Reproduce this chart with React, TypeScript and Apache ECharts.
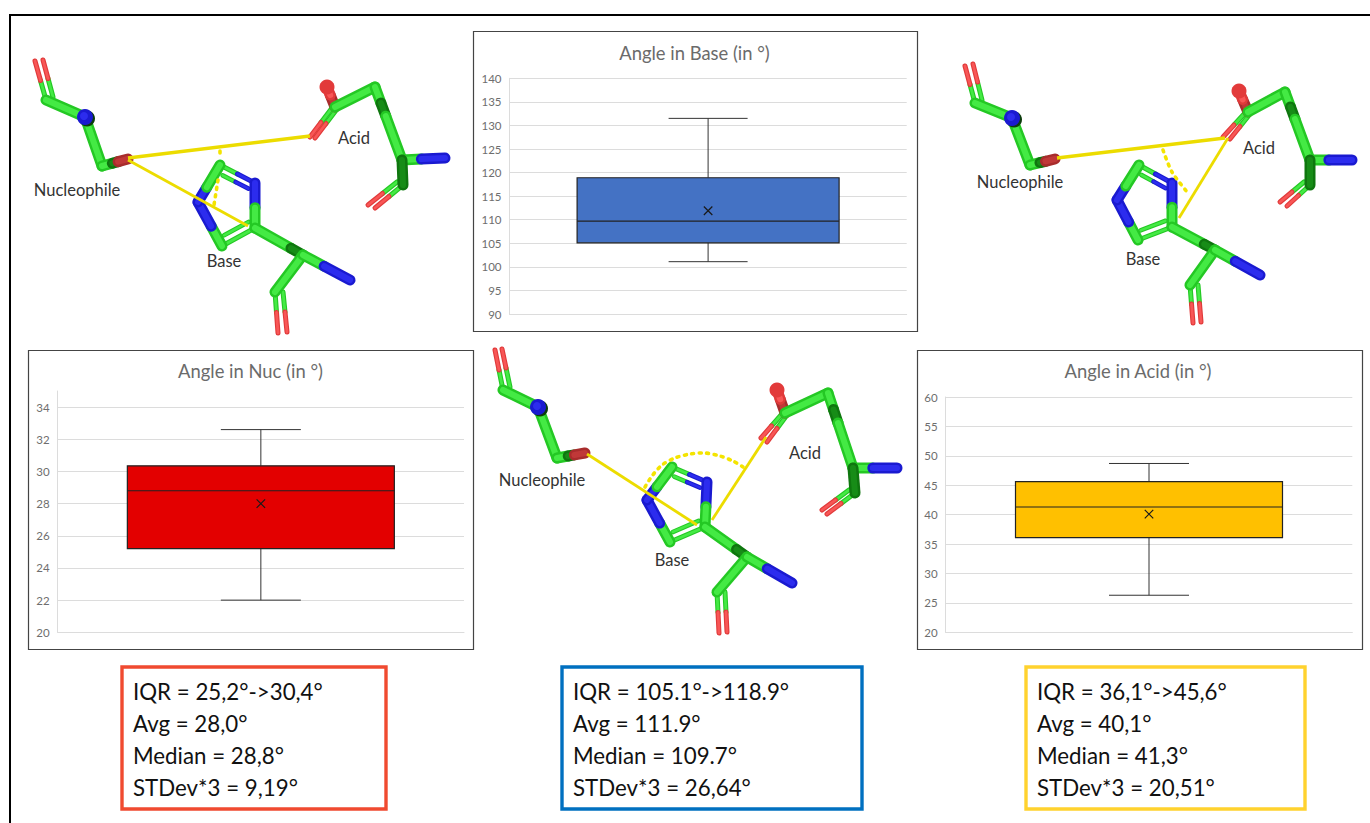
import React, { useEffect, useRef } from "react";
import * as echarts from "echarts";

// ---------- chart data ----------
const chartTitles = ["Angle in Nuc (in °)", "Angle in Base (in °)", "Angle in Acid (in °)"];
const categoryNames = ["Nuc", "Base", "Acid"];
const boxNuc = [22.0, 25.2, 28.8, 30.35, 32.6];
const boxBase = [101.1, 105.1, 109.7, 118.9, 131.5];
const boxAcid = [26.3, 36.1, 41.3, 45.6, 48.7];
const meanValues = [28.0, 111.9, 40.1];
const axisMins = [20, 90, 20];
const axisMaxs = [35, 140, 60];
const axisSteps = [2, 5, 5];
const boxColors = ["#e30000", "#4472c4", "#ffc000"];

// ---------- captions ----------
const statsNuc = ["IQR = 25,2°->30,4°", "Avg = 28,0°", "Median = 28,8°", "STDev*3 = 9,19°"];
const statsBase = ["IQR = 105.1°->118.9°", "Avg = 111.9°", "Median = 109.7°", "STDev*3 = 26,64°"];
const statsAcid = ["IQR = 36,1°->45,6°", "Avg = 40,1°", "Median = 41,3°", "STDev*3 = 20,51°"];

// ---------- illustration (stick models) ----------
type P = number[];
const nucKeys: P[][] = [
  [[35, 61], [43, 60], [46, 100], [85, 117], [102, 166], [128, 159]],
  [[495, 350], [502, 349], [503, 390], [538, 407], [557, 458], [585, 453]],
  [[965, 66], [973, 64], [975, 103], [1012, 118], [1030, 165], [1055, 159]],
];
const hisKeys: P[][] = [
  [[220, 165], [255, 183], [255, 228], [222, 246], [198, 202], [303, 255], [350, 280], [275, 292], [278, 333], [287, 332]],
  [[672, 467], [707, 482], [705, 527], [670, 542], [647, 500], [747, 557], [792, 583], [717, 592], [719, 633], [727, 632]],
  [[1139, 165], [1172, 183], [1172, 227], [1138, 240], [1117, 200], [1215, 250], [1260, 275], [1190, 285], [1193, 323], [1201, 322]],
];
const acidKeys: P[][] = [
  [[327, 87], [335, 107], [375, 87], [402, 160], [445, 158], [403, 185], [368, 205], [375, 208], [310, 137], [315, 138]],
  [[777, 390], [785, 413], [828, 393], [853, 468], [897, 468], [855, 493], [822, 510], [827, 514], [761, 438], [767, 442]],
  [[1239, 91], [1248, 112], [1285, 92], [1310, 160], [1352, 160], [1310, 185], [1280, 202], [1287, 206], [1223, 137], [1230, 139]],
];
const solidBonds: P[][][] = [
  [[[128, 158], [310, 136]], [[128, 160], [248, 226]]],
  [[[587, 454], [697, 525]], [[712, 520], [766, 437]]],
  [[[1057, 158], [1225, 138]], [[1179, 218], [1228, 138]]],
];
const dottedArcs: P[][][] = [
  [[[220, 151], [220, 158]], [[218, 180], [214, 205]]],
  [[[645, 487], [652, 476], [662, 465], [675, 458], [690, 454], [705, 453], [720, 456], [733, 461], [743, 467]]],
  [[[1163, 150], [1172, 172], [1188, 193]]],
];
const moleculeLabels: [string, number, number][] = [
  ["Nucleophile", 77, 190], ["Acid", 354, 138], ["Base", 224, 261],
  ["Nucleophile", 542, 480], ["Acid", 805, 453], ["Base", 672, 560],
  ["Nucleophile", 1020, 182], ["Acid", 1259, 148], ["Base", 1143, 259],
];

const GREEN = ["#24c824", "#44ea44"];
const DKGREEN = ["#0f760f", "#178c17"];
const BLUE = ["#1a1ad0", "#2c2cee"];
const RED = ["#e03a3a", "#f85656"];
const DKRED = ["#a82c2c", "#c03838"];

const lerp = (a: P, b: P, t: number): P => [a[0] + (b[0] - a[0]) * t, a[1] + (b[1] - a[1]) * t];

function stick(a: P, b: P, c: string[], w: number): any[] {
  const base = { silent: true, type: "polyline", shape: { points: [a, b] } };
  return [
    { ...base, style: { stroke: c[0], lineWidth: w, fill: "none", lineCap: "round", lineJoin: "round" } },
    { ...base, style: { stroke: c[1], lineWidth: w * 0.55, fill: "none", lineCap: "round", lineJoin: "round" } },
  ];
}
function ball(p: P, r: number, c: string[]): any[] {
  return [
    { type: "circle", silent: true, shape: { cx: p[0] + 2, cy: p[1] + 1.5, r }, style: { fill: "#0c3c0c" } },
    { type: "circle", silent: true, shape: { cx: p[0], cy: p[1], r }, style: { fill: c[0] } },
    { type: "circle", silent: true, shape: { cx: p[0] - 1, cy: p[1] - 1, r: r * 0.5 }, style: { fill: c[1] } },
  ];
}
function thinPair(a1: P, a2: P, b1: P, b2: P, w = 5): any[] {
  return [
    ...stick(a1, lerp(a1, b1, 0.5), GREEN, w), ...stick(lerp(a1, b1, 0.5), b1, RED, w),
    ...stick(a2, lerp(a2, b2, 0.5), GREEN, w), ...stick(lerp(a2, b2, 0.5), b2, RED, w),
  ];
}

function molecule(i: number): any[] {
  const out: any[] = [];
  const W = 11;
  // nucleophile
  const [ta, tb, c, n, bend, o] = nucKeys[i];
  out.push(...thinPair(c, [c[0] + 7, c[1] - 3], ta, tb));
  out.push(...stick(c, n, GREEN, W), ...stick(n, bend, GREEN, W));
  out.push(...stick(bend, lerp(bend, o, 0.4), GREEN, W), ...stick(lerp(bend, o, 0.4), lerp(bend, o, 0.62), DKGREEN, W));
  out.push(...stick(lerp(bend, o, 0.62), o, DKRED, W));
  out.push(...ball(n, 8, BLUE));
  // acid
  const [os, c1, k, m, ne, d, p1, p2, o1, o2] = acidKeys[i];
  out.push(...thinPair([c1[0] + 2, c1[1] + 2], [c1[0] - 3, c1[1] + 1], o2, o1));
  out.push(...thinPair(d, [d[0] - 6, d[1] - 3], p2, p1));
  out.push(...stick(lerp(os, c1, 0.4), c1, DKRED, W), ...stick(os, lerp(os, c1, 0.4), RED, W));
  out.push({ type: "circle", silent: true, shape: { cx: os[0], cy: os[1], r: 7.5 }, style: { fill: "#e23a3a" } });
  out.push(...stick(c1, k, GREEN, W));
  out.push(...stick(k, lerp(k, m, 0.22), GREEN, W), ...stick(lerp(k, m, 0.22), lerp(k, m, 0.4), DKGREEN, W), ...stick(lerp(k, m, 0.4), m, GREEN, W));
  out.push(...stick(m, lerp(m, ne, 0.45), GREEN, W), ...stick(lerp(m, ne, 0.45), ne, BLUE, W));
  out.push(...stick(m, d, DKGREEN, W));
  // imidazole ring + backbone
  const [t, nr, cr, cb, nl, ca, nEnd, cc, tA, tB] = hisKeys[i];
  const center = [(t[0] + nr[0] + cr[0] + cb[0] + nl[0]) / 5, (t[1] + nr[1] + cr[1] + cb[1] + nl[1]) / 5];
  const inset = (p: P) => lerp(p, center, 0.26);
  out.push(...thinPair(cc, [cc[0] + 8, cc[1]], tA, tB));
  out.push(...stick(t, lerp(t, nr, 0.5), GREEN, 5), ...stick(lerp(t, nr, 0.5), nr, BLUE, 5));
  out.push(...stick(inset(t), lerp(inset(t), inset(nr), 0.5), GREEN, 4.6), ...stick(lerp(inset(t), inset(nr), 0.5), inset(nr), BLUE, 4.6));
  out.push(...stick(cb, cr, GREEN, 5), ...stick(inset(cb), inset(cr), GREEN, 4.6));
  out.push(...stick(nr, lerp(nr, cr, 0.55), BLUE, W), ...stick(lerp(nr, cr, 0.55), cr, GREEN, W));
  out.push(...stick(cb, lerp(cb, nl, 0.45), GREEN, W), ...stick(lerp(cb, nl, 0.45), nl, BLUE, W));
  out.push(...stick(nl, lerp(nl, t, 0.4), BLUE, W), ...stick(lerp(nl, t, 0.4), t, GREEN, W));
  out.push(...stick(cr, lerp(cr, ca, 0.75), GREEN, W), ...stick(lerp(cr, ca, 0.75), ca, DKGREEN, W));
  out.push(...stick(ca, cc, GREEN, W));
  out.push(...stick(ca, lerp(ca, nEnd, 0.45), GREEN, W), ...stick(lerp(ca, nEnd, 0.45), nEnd, BLUE, W));
  // measured distances
  solidBonds[i].forEach((s, j) => {
    out.push({
      type: "polyline", silent: true, shape: { points: s },
      style: { stroke: "#ecdc00", lineWidth: j === 0 && i !== 1 ? 3.4 : 2.8, fill: "none" },
    });
  });
  dottedArcs[i].forEach((s) => {
    out.push({
      type: "polyline", silent: true, shape: { points: s, smooth: 0.3 },
      style: { stroke: "#f4e400", lineWidth: 3.6, fill: "none", lineCap: "round", lineDash: [2, 5.5] },
    });
  });
  return out;
}

// ---------- layout ----------
const frames = [
  [28, 350, 445, 299],
  [473, 31, 444, 300],
  [917, 350, 445, 299],
];
const grids = [
  { left: 57.7, top: 391, width: 406.3, height: 241.3 },
  { left: 509.5, top: 78.3, width: 397.2, height: 235.7 },
  { left: 945.7, top: 397, width: 406.6, height: 235.3 },
];
const titleSpots = [[250.5, 362], [694.5, 44], [1138, 362]];
const boxWidths = [267, 262, 267];
const capWidths = [80, 79, 80];
const statBoxes = [
  { x: 122, y: 667, w: 264, h: 142, c: "#f04a30", tx: 133, lines: statsNuc },
  { x: 562, y: 667, w: 300, h: 142, c: "#0070c0", tx: 573, lines: statsBase },
  { x: 1026, y: 667, w: 279, h: 142, c: "#ffd22e", tx: 1037, lines: statsAcid },
];
const lineYs = [691, 723, 755, 787];

const FONT = "Lato, 'Noto Sans', sans-serif";

function boxRenderer(i: number) {
  return (_params: any, api: any) => {
    const px = (k: number) => api.coord([api.value(0), api.value(k)]);
    const [cx, yMin] = px(1);
    const yQ1 = px(2)[1];
    const yMed = px(3)[1];
    const yQ3 = px(4)[1];
    const yMax = px(5)[1];
    const halfBox = boxWidths[i] / 2;
    const halfCap = capWidths[i] / 2;
    const thin = { stroke: "#333", lineWidth: 1 };
    const edge = { stroke: "#222", lineWidth: 1.2 };
    const line = (x1: number, y1: number, x2: number, y2: number, style: any) => ({
      type: "line", shape: { x1, y1, x2, y2 }, style,
    });
    return {
      type: "group",
      children: [
        line(cx, yMin, cx, yQ1, thin),
        line(cx, yQ3, cx, yMax, thin),
        line(cx - halfCap, yMin, cx + halfCap, yMin, thin),
        line(cx - halfCap, yMax, cx + halfCap, yMax, thin),
        {
          type: "rect",
          shape: { x: cx - halfBox, y: yQ3, width: halfBox * 2, height: yQ1 - yQ3 },
          style: { fill: boxColors[i], ...edge },
        },
        line(cx - halfBox, yMed, cx + halfBox, yMed, edge),
      ],
    };
  };
}

function buildOption() {
  const boxes = [boxNuc, boxBase, boxAcid];
  const graphic: any[] = [];
  graphic.push({ type: "polyline", silent: true, shape: { points: [[10, 823], [10, 15], [1370, 15]] }, style: { stroke: "#000", lineWidth: 2, fill: "none" } });
  frames.forEach((f) => {
    graphic.push({ type: "rect", silent: true, shape: { x: f[0] + 0.5, y: f[1] + 0.5, width: f[2], height: f[3] }, style: { fill: "none", stroke: "#444", lineWidth: 1.2 } });
  });
  statBoxes.forEach((b) => {
    graphic.push({ type: "rect", silent: true, shape: { x: b.x, y: b.y, width: b.w, height: b.h }, style: { fill: "#fff", stroke: b.c, lineWidth: 3.4 } });
    b.lines.forEach((text, i) => {
      graphic.push({
        type: "text", silent: true, x: b.tx, y: lineYs[i], scaleX: 0.97,
        style: { text, fill: "#111", font: `23px ${FONT}`, textAlign: "left", verticalAlign: "middle" },
      });
    });
  });
  [0, 1, 2].forEach((i) => graphic.push(...molecule(i)));
  moleculeLabels.forEach(([text, x, y]) => {
    graphic.push({
      type: "text", silent: true, x, y,
      style: { text, fill: "#333", font: `16.5px ${FONT}`, textAlign: "center", verticalAlign: "middle" },
    });
  });

  const series: any[] = [];
  boxes.forEach((b, i) => {
    const fixed = { xAxisIndex: i, yAxisIndex: i };
    series.push({
      type: "custom", name: categoryNames[i] + " box", ...fixed, z: 3, clip: false,
      renderItem: boxRenderer(i),
      encode: { x: 0, y: [1, 2, 3, 4, 5] },
      data: [[0, ...b]],
    });
    series.push({
      type: "scatter", name: categoryNames[i] + " mean", ...fixed, z: 4,
      symbol: "path://M0,0L10,10M10,0L0,10", symbolSize: 8.5,
      itemStyle: { color: "rgba(0,0,0,0)", borderColor: "#1a1a1a", borderWidth: 1.2, opacity: 1 },
      data: [[0, meanValues[i]]],
    });
  });

  return {
    animation: false,
    backgroundColor: "#fff",
    textStyle: { fontFamily: FONT },
    title: chartTitles.map((text, i) => ({
      text, left: titleSpots[i][0], top: titleSpots[i][1], textAlign: "center", padding: 0,
      textStyle: { color: "#6b6b6b", fontSize: 18.4, fontWeight: "normal", fontFamily: FONT },
    })),
    grid: grids.map((g) => ({ ...g, containLabel: false })),
    xAxis: grids.map((_, i) => ({
      type: "category", gridIndex: i, data: [categoryNames[i]], boundaryGap: true,
      axisTick: { show: false }, axisLabel: { show: false },
      axisLine: { onZero: false, lineStyle: { color: "#dcdcdc", width: 1 } },
      splitLine: { show: false },
    })),
    yAxis: grids.map((_, i) => ({
      type: "value", gridIndex: i, min: axisMins[i], max: axisMaxs[i], interval: axisSteps[i],
      axisTick: { show: false },
      axisLine: { show: true, onZero: false, lineStyle: { color: "#dcdcdc", width: 1 } },
      axisLabel: { color: "#6e6e6e", fontSize: 11.5, margin: 8, fontFamily: FONT, showMaxLabel: i !== 0 },
      splitLine: { show: true, showMaxLine: i !== 0, lineStyle: { color: "#dcdcdc", width: 1 } },
    })),
    series,
    graphic: { elements: graphic },
  };
}

export default function App() {
  const ref = useRef<HTMLDivElement | null>(null);
  useEffect(() => {
    if (!ref.current) return;
    const chart = echarts.init(ref.current, undefined, { renderer: "svg" });
    chart.setOption(buildOption() as any);
    return () => chart.dispose();
  }, []);
  return <div ref={ref} style={{ position: "absolute", left: 0, top: 0, width: 1370, height: 823, background: "#fff" }} />;
}
